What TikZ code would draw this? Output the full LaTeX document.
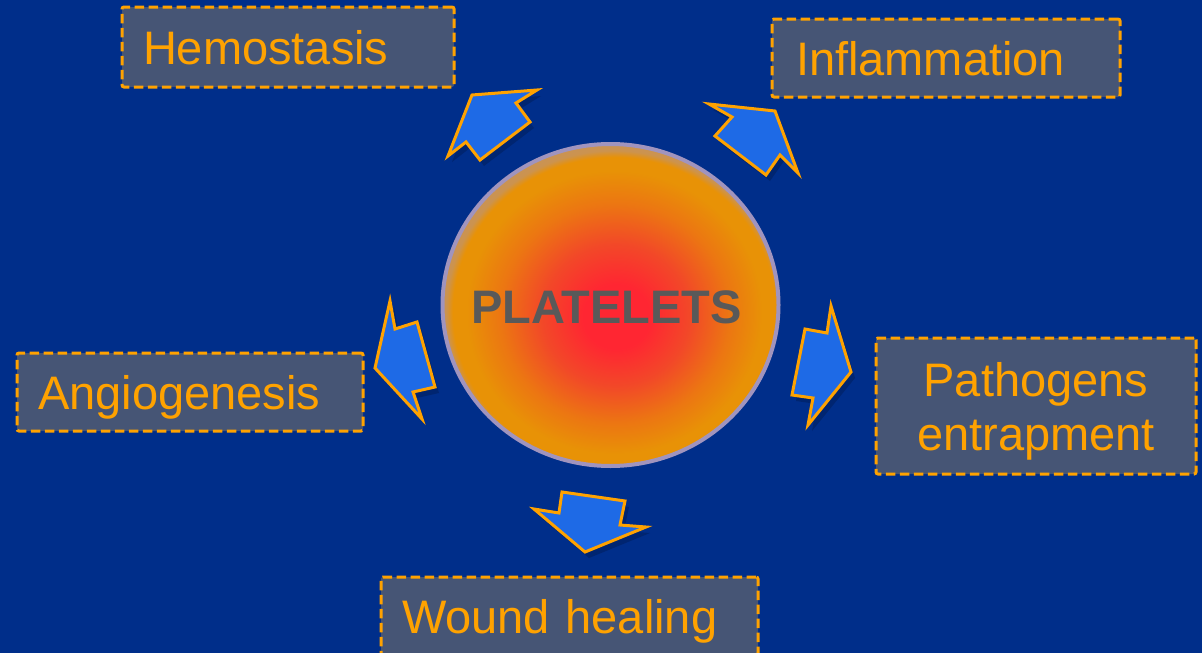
\documentclass[tikz,border=0pt]{standalone}
\usepackage{fontspec}
\setmainfont{Liberation Sans}
\usepackage{xcolor}
\usepackage{tikz}
\usetikzlibrary{shapes.geometric, positioning, calc}
\definecolor{bgblue}{RGB}{0,46,138}
\definecolor{boxgray}{RGB}{70,85,117}
\definecolor{myorange}{RGB}{255,162,0}
\definecolor{arrowblue}{RGB}{30,106,230}
\definecolor{txtgray}{RGB}{89,89,89}
\definecolor{pltred}{RGB}{255,38,50}
\definecolor{pltred2}{RGB}{242,72,40}
\definecolor{pltmid}{RGB}{236,118,18}
\definecolor{pltorange}{RGB}{232,146,6}
\definecolor{pltrim}{RGB}{160,148,190}
\pgfdeclareradialshading{plateletshade}{\pgfpoint{1bp}{-2bp}}{%
  color(0bp)=(pltred); color(5bp)=(pltred); color(11bp)=(pltred2);
  color(17bp)=(pltmid); color(22bp)=(pltorange); color(24bp)=(pltorange);
  color(25bp)=(pltorange!60!pltrim); color(50bp)=(pltrim)}
\newcommand{\bigfont}{\fontsize{47pt}{54pt}\selectfont}
\tikzset{
  labelbox/.style={rectangle, draw=myorange, fill=boxgray,
    line width=3pt, dash pattern=on 9.5pt off 4.5pt, rounded corners=2pt,
    text=myorange, font=\bigfont, text height=34pt, text depth=0pt,
    inner ysep=0pt},
  leftbox/.style={labelbox, align=left, inner xsep=21pt},
  blockarrow/.style={draw=myorange, fill=arrowblue, line width=3pt, line join=miter},
  arrowshadow/.style={fill=black, opacity=0.18, shift={(4,6)}}
}
\newcommand{\flowarrow}[1]{\fill[arrowshadow] #1; \draw[blockarrow] #1;}

\begin{document}
\begin{tikzpicture}[x=1pt, y=-1pt]
  \useasboundingbox (0,0) rectangle (1202,653);
  \fill[bgblue] (0,0) rectangle (1202,653);

  % the five outcomes
  \node[leftbox, text width=290pt, minimum width=332pt, minimum height=80pt] (hemo) at (288,47) {Hemostasis};
  \node[leftbox, inner xsep=24pt, text width=300pt, minimum width=348pt, minimum height=78pt] (infl) at (946,58) {Inflammation};
  \node[leftbox, text width=304pt, minimum width=346pt, minimum height=78pt] (angio) at (190,392) {Angiogenesis};
  \node[labelbox, align=center, text height=88pt, minimum width=320pt, minimum height=136pt] (patho) at (1036,406) {Pathogens\\entrapment};
  \node[leftbox, text width=335pt, minimum width=377pt, minimum height=78pt] (wound) at (569.5,616) {Wound healing};

  % platelet
  \node[ellipse, shading=plateletshade, draw=pltrim, line width=4pt,
    minimum width=336pt, minimum height=322pt, inner sep=0pt] (plt) at (610.5,305) {};
  \node[font=\bfseries\bigfont, text=txtgray, text height=34pt, text depth=0pt, inner sep=0pt]
    (plttext) at ([xshift=-4pt, yshift=-1pt]plt.center) {PLATELETS};

  % arrows
  \flowarrow{(472,95) -- (537,90) -- (516,103) -- (530,122) -- (480,160) -- (466,142) -- (448,156) -- cycle}
  \flowarrow{(775,111) -- (709,104) -- (732,117) -- (715,136) -- (766,175) -- (780,155) -- (798,173) -- cycle}
  \flowarrow{(375,368) -- (390,301) -- (395,329) -- (417,322) -- (435,387) -- (413,392) -- (422,419) -- cycle}
  \flowarrow{(851,372) -- (831,306) -- (827,333) -- (805,329) -- (792,395) -- (813,398) -- (808,425) -- cycle}
  \flowarrow{(585,552) -- (646,527) -- (620,525) -- (625,501) -- (562,492) -- (559,513) -- (534,509) -- cycle}
\end{tikzpicture}
\end{document}
